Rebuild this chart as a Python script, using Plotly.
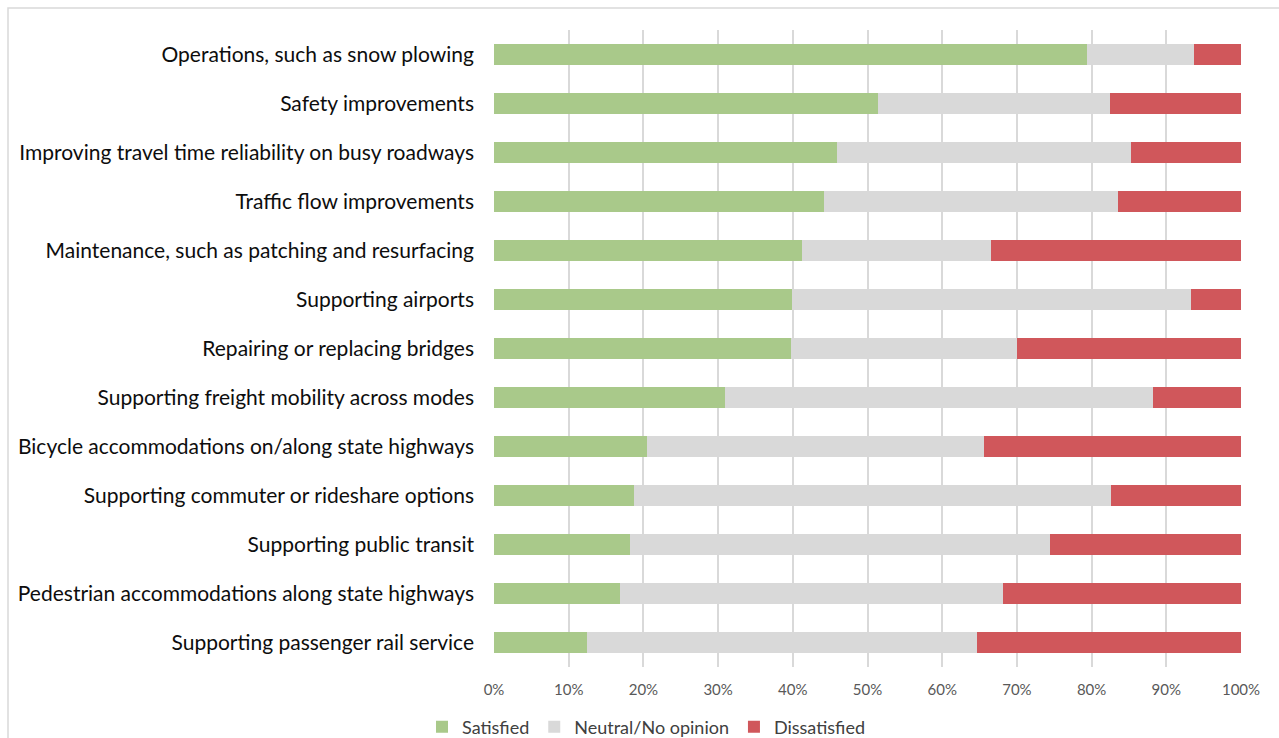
import plotly.graph_objects as go

categories = [
    "Operations, such as snow plowing",
    "Safety improvements",
    "Improving travel time reliability on busy roadways",
    "Traffic flow improvements",
    "Maintenance, such as patching and resurfacing",
    "Supporting airports",
    "Repairing or replacing bridges",
    "Supporting freight mobility across modes",
    "Bicycle accommodations on/along state highways",
    "Supporting commuter or rideshare options",
    "Supporting public transit",
    "Pedestrian accommodations along state highways",
    "Supporting passenger rail service",
]
satisfied = [79.4, 51.4, 45.9, 44.2, 41.2, 39.9, 39.8, 30.9, 20.5, 18.7, 18.2, 16.9, 12.4]
neutral = [14.3, 31.1, 39.4, 39.3, 25.3, 53.4, 30.2, 57.3, 45.1, 63.9, 56.2, 51.2, 52.3]
dissatisfied = [round(100 - s - n, 1) for s, n in zip(satisfied, neutral)]

series_names = ["Satisfied", "Neutral/No opinion", "Dissatisfied"]
series_colors = ["#A9C98A", "#D9D9D9", "#D0575B"]
tick_vals = [0, 10, 20, 30, 40, 50, 60, 70, 80, 90, 100]
tick_text = [f"{v}%" for v in tick_vals]

fig = go.Figure()
for name, vals, col in zip(series_names, [satisfied, neutral, dissatisfied], series_colors):
    fig.add_trace(go.Bar(
        y=categories, x=vals, name=name, orientation="h",
        marker=dict(color=col, line=dict(width=0)),
    ))

W, H = 1279, 738
L, R, T, B = 494, 1279 - 1241, 30, 738 - 667
pw, ph = W - L - R, H - T - B

def px(x):
    return (x - L) / pw

def py(y):
    return (H - B - y) / ph

fig.update_layout(
    width=W, height=H,
    margin=dict(l=L, r=R, t=T, b=B, autoexpand=False),
    barmode="stack",
    bargap=0.59,
    paper_bgcolor="white",
    plot_bgcolor="white",
    font=dict(family="Lato, Open Sans, sans-serif", color="#000000"),
    xaxis=dict(
        range=[0, 100], tickvals=tick_vals, ticktext=tick_text,
        showgrid=True, gridcolor="#D9D9D9", gridwidth=1.5,
        zeroline=False, showline=False,
        tickfont=dict(size=15, color="#595959"),
        ticklabelstandoff=12, fixedrange=True,
    ),
    yaxis=dict(
        categoryorder="array", categoryarray=categories[::-1],
        autorange=False, range=[-0.5, len(categories) - 0.5],
        tickfont=dict(size=21, color="#0D0D0D"),
        ticklabelstandoff=19, showgrid=False, showline=False, fixedrange=True,
    ),
    legend=dict(
        orientation="h", x=px(646), xanchor="center", y=py(727), yanchor="middle",
        font=dict(size=18, color="#404040"), traceorder="normal",
        itemwidth=30, tracegroupgap=0,
    ),
    showlegend=True,
    shapes=[
        dict(type="rect", xref="paper", yref="paper",
             x0=px(8), x1=px(1300), y0=py(760), y1=py(8),
             line=dict(color="#D9D9D9", width=1.5), fillcolor="rgba(0,0,0,0)", layer="below"),
    ],
)

fig.write_html(
    "out.html",
    config={"displayModeBar": False},
    post_script="document.body.style.margin='0';document.body.style.overflow='hidden';",
)
